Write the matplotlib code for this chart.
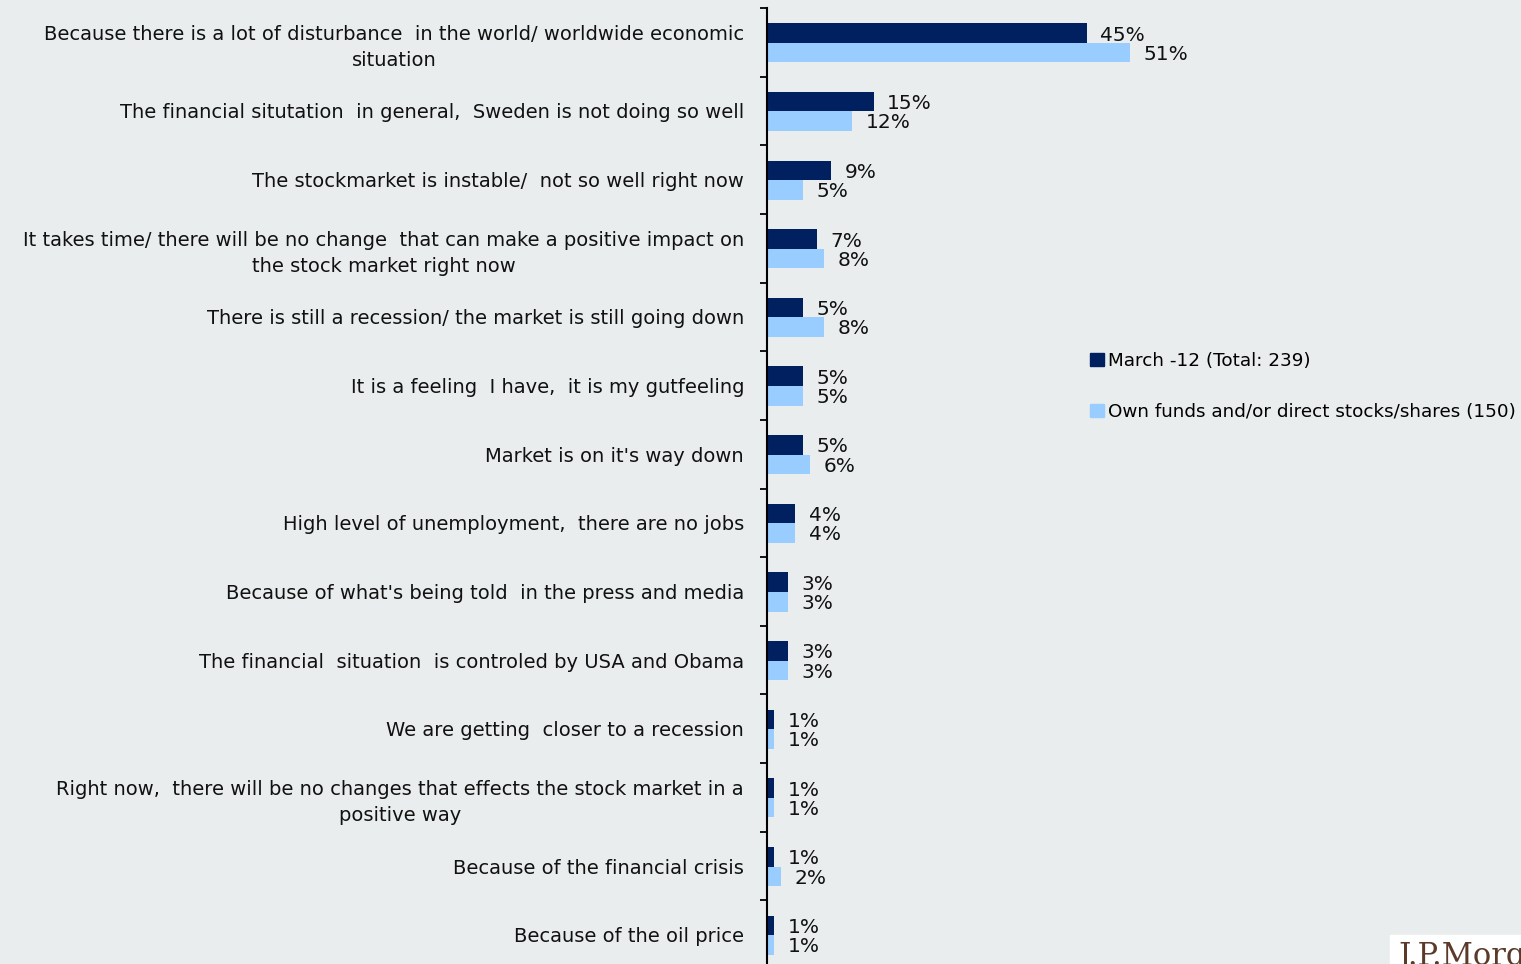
import matplotlib.pyplot as plt
import matplotlib.patches as mpatches
import numpy as np

# ── Data ─────────────────────────────────────────────
categories = [
    "Because there is a lot of disturbance  in the world/ worldwide economic\nsituation",
    "The financial situtation  in general,  Sweden is not doing so well",
    "The stockmarket is instable/  not so well right now",
    "It takes time/ there will be no change  that can make a positive impact on\nthe stock market right now",
    "There is still a recession/ the market is still going down",
    "It is a feeling  I have,  it is my gutfeeling",
    "Market is on it's way down",
    "High level of unemployment,  there are no jobs",
    "Because of what's being told  in the press and media",
    "The financial  situation  is controled by USA and Obama",
    "We are getting  closer to a recession",
    "Right now,  there will be no changes that effects the stock market in a\npositive way",
    "Because of the financial crisis",
    "Because of the oil price",
]
march_12 = [45, 15, 9, 7, 5, 5, 5, 4, 3, 3, 1, 1, 1, 1]
own_funds = [51, 12, 5, 8, 8, 5, 6, 4, 3, 3, 1, 1, 2, 1]

series_names = ["March -12 (Total: 239)", "Own funds and/or direct stocks/shares (150)"]

BG = "#E9EDED"
DARK = "#002060"
LIGHT = "#99CCFF"

W, H = 1521, 964
fig = plt.figure(figsize=(W / 100, H / 100), dpi=100, facecolor=BG)
ax = fig.add_axes([767 / W, 1 - 969 / H, 1 - 767 / W, 961 / H])
ax.set_facecolor(BG)

y = np.arange(len(categories))
bh = 0.285
ax.barh(y - 0.135, march_12, height=bh, color=DARK, label=series_names[0])
ax.barh(y + 0.15, own_funds, height=bh, color=LIGHT, label=series_names[1])

for i, (a, b) in enumerate(zip(march_12, own_funds)):
    ax.text(a + 1.9, i - 0.105, f"{a}%", va="center", ha="left", fontsize=14.5, color="#111111")
    ax.text(b + 1.9, i + 0.175, f"{b}%", va="center", ha="left", fontsize=14.5, color="#111111")

ax.set_xlim(0, (W - 767) / 7.11)
ax.set_ylim(13.5, -0.5)
ax.set_yticks(y)
ax.set_yticklabels(categories, fontsize=14, color="#111111", multialignment="center")
for lbl in ax.get_yticklabels():
    lbl.set_linespacing(1.45)
ax.set_yticks(np.arange(-0.5, 14, 1), minor=True)
ax.tick_params(axis="y", which="major", length=0, pad=16.5)
ax.tick_params(axis="y", which="minor", length=5, width=1.3, direction="out", color="black")
ax.set_xticks([])
for s in ["top", "right", "bottom"]:
    ax.spines[s].set_visible(False)
ax.spines["left"].set_linewidth(1.5)

handles = [mpatches.Patch(color=DARK, label=series_names[0]),
           mpatches.Patch(color=LIGHT, label=series_names[1])]
fig.legend(handles=handles, loc="upper left", bbox_to_anchor=(1083 / W, 1 - 345 / H),
           frameon=False, fontsize=13.2, handlelength=0.72, handleheight=0.72,
           handletextpad=0.25, labelspacing=1.8, borderaxespad=0)

# logo box, cut at the edge as in the slide
fig.patches.append(mpatches.Rectangle((1390 / W, 0), 1 - 1390 / W, 29 / H,
                                      transform=fig.transFigure, color="white", zorder=5))
fig.text(1398 / W, -8 / H, "J.P.Morgan", fontsize=22, family="DejaVu Serif",
         color="#5B3A29", ha="left", va="bottom", zorder=6)

fig.savefig("out.png", dpi=100, facecolor=BG)
